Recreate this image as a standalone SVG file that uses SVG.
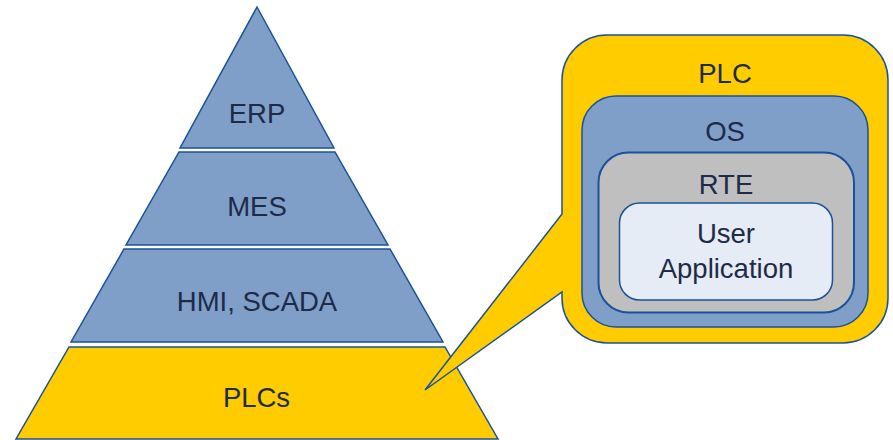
<svg xmlns="http://www.w3.org/2000/svg" width="893" height="440" viewBox="0 0 893 440">
<style>
.blue{fill:#7F9FC8;stroke:#1A5199;stroke-width:1.5}
.yellow{fill:#FFCC00;stroke:#1A5199;stroke-width:1.5}
.gray{fill:#BFBFBF;stroke:#1A5199;stroke-width:2}
.light{fill:#E5ECF5;stroke:#1A5199;stroke-width:1.5}
.t{font-family:"Liberation Sans",Arial,sans-serif;font-size:27.5px;fill:#1E2B48;text-anchor:middle}
</style>
<rect width="893" height="440" fill="#FFFFFF"/>
<g id="erp">
<polygon class="blue" points="257,7 334,148 180,148"/>
<text class="t" x="257" y="123">ERP</text>
</g>
<g id="mes">
<polygon class="blue" points="179,152 335,152 388,245 126,245"/>
<text class="t" x="257" y="216">MES</text>
</g>
<g id="hmi-scada">
<polygon class="blue" points="124,249 390,249 443,342 71,342"/>
<text class="t" x="257" y="310.5">HMI, SCADA</text>
</g>
<g id="plcs">
<polygon class="yellow" points="69,347 445,347 498,439 16,439"/>
<text class="t" x="256.5" y="407">PLCs</text>
</g>
<g id="plc">
<path class="yellow" d="M607,35 H843 A45,45 0 0 1 888,80 V298 A45,45 0 0 1 843,343 H607 A45,45 0 0 1 562,298 V292 L425,390 L562,214 V80 A45,45 0 0 1 607,35 Z"/>
<text class="t" x="725" y="83">PLC</text>
</g>
<g id="os">
<rect class="blue" x="582" y="96" width="286" height="231" rx="34" ry="34"/>
<text class="t" x="725" y="141">OS</text>
</g>
<g id="rte">
<rect class="gray" x="598.5" y="152.5" width="255.5" height="160" rx="30" ry="30"/>
<text class="t" x="726" y="194">RTE</text>
</g>
<g id="user-application">
<rect class="light" x="619.5" y="203" width="213" height="97" rx="20" ry="20"/>
<text class="t" x="726" y="243">User</text>
<text class="t" x="726" y="278">Application</text>
</g>
<g id="connectors"></g>
</svg>
